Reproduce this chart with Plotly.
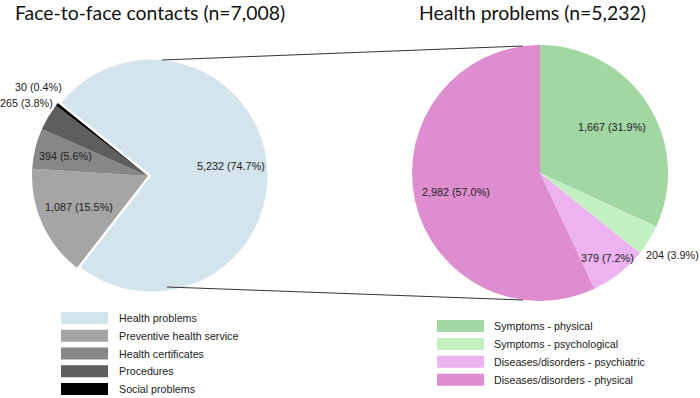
import math
import plotly.graph_objects as go

# ---------------- data ----------------
contact_labels = ["Health problems", "Preventive health service", "Health certificates",
                  "Procedures", "Social problems"]
contact_values = [5232, 1087, 394, 265, 30]

health_labels = ["Symptoms - physical", "Symptoms - psychological",
                 "Diseases/disorders - psychiatric", "Diseases/disorders - physical"]
health_values = [1667, 204, 379, 2982]

titles = ["Face-to-face contacts (n=7,008)", "Health problems (n=5,232)"]

# ---------------- styles ----------------
contact_colors = ["#D4E4EC", "#A5A5A5", "#878787", "#5E5E5E", "#000000"]
health_colors = ["#A2D6A2", "#C3F0C3", "#ECB3F0", "#DE8DCE"]
contact_pull = [0.03, 0, 0, 0, 0]
contact_rotation = -51
health_rotation = 0

# label placement: (radius fraction, xanchor, xshift px, yshift px)
contact_label_style = [(0.69, "center", 0, 0), (0.65, "center", 0, 0), (0.73, "center", 0, 0),
                       (1.0, "right", 7, 14), (1.0, "center", -18, 17)]
health_label_style = [(0.67, "center", 0, 0), (1.0, "left", -5, -15),
                      (0.85, "center", 0, 0), (0.67, "center", 0, 0)]

W, H = 700, 398
# pie domains in pixels: (left, top, right, bottom)
left_box = (28.5, 56.5, 267.5, 295.5)
right_box = (412, 45, 668, 301)

LABEL_FONT = "Liberation Sans, Arial"
TITLE_FONT = "Lato, Carlito, Calibri"


def px(x):
    return x / W


def py(y):
    return 1 - y / H


def domain_of(box):
    l, t, r, b = box
    return dict(x=[px(l), px(r)], y=[py(b), py(t)])


fig = go.Figure()
fig.add_trace(go.Pie(
    labels=contact_labels, values=contact_values, sort=False, direction="clockwise",
    rotation=contact_rotation, pull=contact_pull,
    marker=dict(colors=contact_colors, line=dict(width=0)),
    textinfo="none", hoverinfo="label+value+percent", domain=domain_of(left_box),
))
fig.add_trace(go.Pie(
    labels=health_labels, values=health_values, sort=False, direction="clockwise",
    rotation=health_rotation,
    marker=dict(colors=health_colors, line=dict(width=0)),
    textinfo="none", hoverinfo="label+value+percent", domain=domain_of(right_box),
))

shapes = []
annotations = []


def slice_labels(values, box, rotation, pulls, styles):
    l, t, r, b = box
    cx, cy = (l + r) / 2, (t + b) / 2
    rad = min(r - l, b - t) / 2 / (1 + max(pulls))
    total = sum(values)
    cum = 0
    for v, p, (rf, xa, xs, ys) in zip(values, pulls, styles):
        mid = math.radians(rotation + (cum + v / 2) / total * 360)
        cum += v
        dist = rad * (rf + p)
        x = cx + dist * math.sin(mid)
        y = cy - dist * math.cos(mid)
        annotations.append(dict(
            text=f"{v:,} ({v / total * 100:.1f}%)", xref="paper", yref="paper",
            x=px(x), y=py(y), xanchor=xa, yanchor="middle", xshift=xs, yshift=ys,
            showarrow=False, font=dict(family=LABEL_FONT, size=10.8, color="#222222")))


slice_labels(contact_values, left_box, contact_rotation, contact_pull, contact_label_style)
slice_labels(health_values, right_box, health_rotation, [0] * len(health_values),
             health_label_style)

# connector lines between the two pies
for (x0, y0, x1, y1) in [(162, 60, 523, 46), (167, 287, 523, 300)]:
    shapes.append(dict(type="line", xref="paper", yref="paper",
                       x0=px(x0), y0=py(y0), x1=px(x1), y1=py(y1),
                       line=dict(color="#333333", width=1)))

# titles
annotations.append(dict(text=titles[0], xref="paper", yref="paper", x=px(13), y=py(-1),
                        xanchor="left", yanchor="top", showarrow=False,
                        font=dict(family=TITLE_FONT, size=19.4, color="#111111")))
annotations.append(dict(text=titles[1], xref="paper", yref="paper", x=px(532), y=py(-1),
                        xanchor="center", yanchor="top", showarrow=False,
                        font=dict(family=TITLE_FONT, size=19.4, color="#111111")))

# legends (drawn manually to get the wide swatches)
legend_specs = [
    (contact_labels, contact_colors, 61, 108, 117, 318, 17.75),
    (health_labels, health_colors, 437, 484, 492, 326, 17.9),
]
for labs, cols, bx0, bx1, tx, y_first, step in legend_specs:
    for i, (lab, col) in enumerate(zip(labs, cols)):
        yc = y_first + i * step
        shapes.append(dict(type="rect", xref="paper", yref="paper",
                           x0=px(bx0), x1=px(bx1), y0=py(yc + 6), y1=py(yc - 6),
                           fillcolor=col, line=dict(width=0)))
        annotations.append(dict(text=lab, xref="paper", yref="paper", x=px(tx), y=py(yc),
                                xanchor="left", yanchor="middle", showarrow=False,
                                font=dict(family=LABEL_FONT, size=10.7, color="#222222")))

fig.update_layout(
    width=W, height=H, margin=dict(l=0, r=0, t=0, b=0, autoexpand=False),
    paper_bgcolor="white", plot_bgcolor="white", showlegend=False,
    shapes=shapes, annotations=annotations,
)

fig.write_html("out.html", config={"displayModeBar": False},
               post_script="document.body.style.margin='0';")
